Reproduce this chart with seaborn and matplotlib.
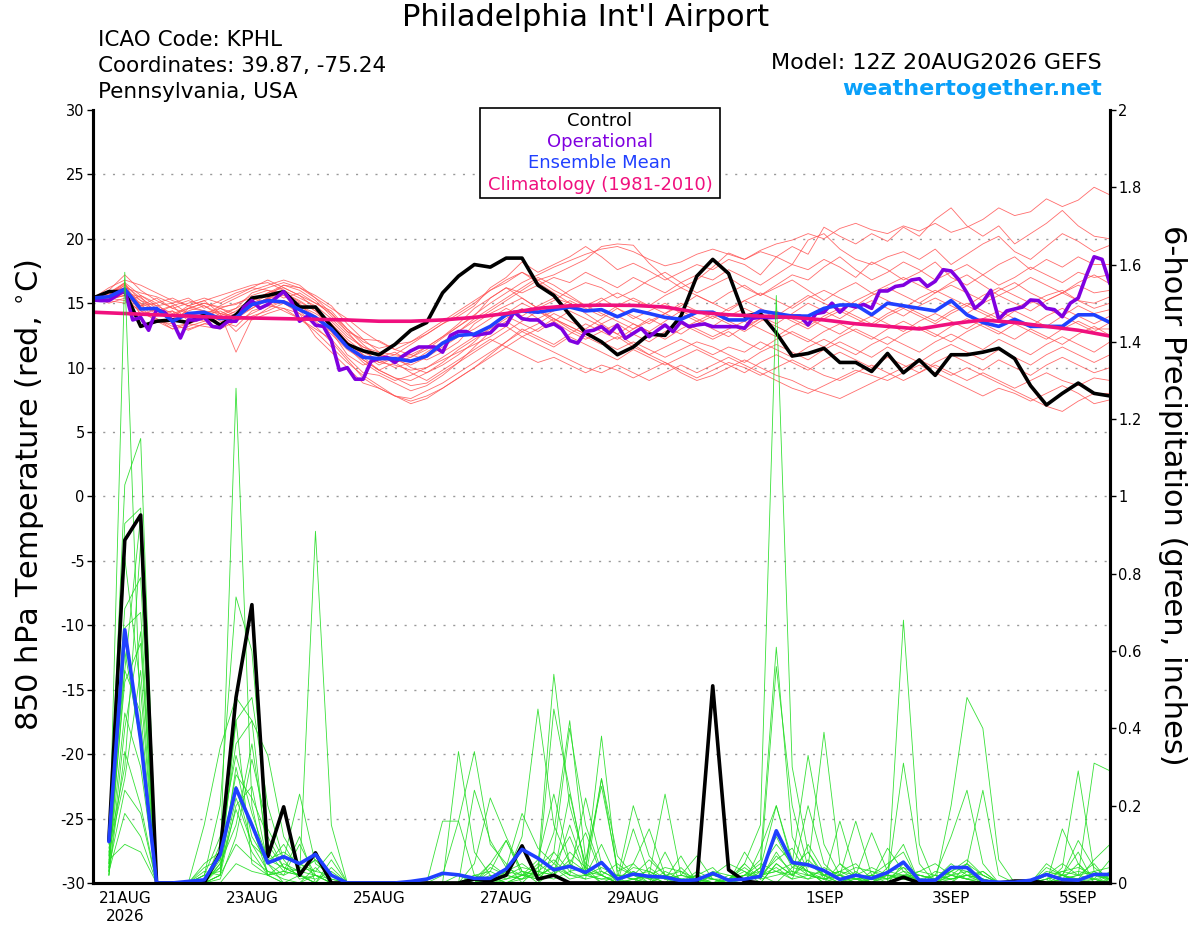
import numpy as np
import pandas as pd
import matplotlib
matplotlib.use("Agg")
import matplotlib.pyplot as plt
from matplotlib.patches import Rectangle
from matplotlib.ticker import FuncFormatter
import seaborn as sns

sns.set_theme(style="white")
plt.rcParams['font.family'] = ['DejaVu Sans']
plt.rcParams['axes.unicode_minus'] = False
plt.rcParams['text.color'] = 'black'
plt.rcParams['axes.labelcolor'] = 'black'
plt.rcParams['xtick.color'] = 'black'
plt.rcParams['ytick.color'] = 'black'

# ---------------- data ----------------
temp_hours = list(range(0, 385, 6))       # forecast hour from 12Z 20AUG
precip_hours = list(range(6, 385, 6))
oper_hours = list(range(0, 385, 3))
clim_hours = list(range(0, 385, 12))
grid_levels = [-25, -20, -15, -10, -5, 0, 5, 10, 15, 20, 25]

tick_hours = [12, 60, 108, 156, 204, 276, 324, 372]
tick_labels = ['21AUG\n2026', '23AUG', '25AUG', '27AUG', '29AUG', '1SEP', '3SEP', '5SEP']

control_temp = [15.4, 15.9, 15.9, 13.2, 13.6, 13.7, 13.5, 14.1, 13.3, 14.1, 15.4, 15.6, 15.9,
                14.7, 14.7, 13.2, 11.8, 11.3, 11.0, 11.8, 12.9, 13.5, 15.8, 17.1, 18.0, 17.8,
                18.5, 18.5, 16.4, 15.6, 14.1, 12.7,
                12.0, 11.0, 11.6, 12.6, 12.5, 14.0, 17.1, 18.4, 17.3, 14.0, 14.2, 12.7, 10.9,
                11.1, 11.5, 10.4, 10.4, 9.7, 11.1, 9.6, 10.6, 9.4, 11.0, 11.0, 11.2, 11.5,
                10.7, 8.6, 7.1, 8.0, 8.8, 8.0, 7.8]

oper_temp = [15.25, 15.2, 15.2, 15.6, 16.0, 13.7, 13.9, 12.9, 14.5, 14.3,
             13.6, 12.3, 13.7, 13.7, 13.9, 13.2, 13.1, 13.6, 13.6, 14.7,
             15.2, 14.6, 14.9, 15.4, 15.9, 15.1, 13.6, 14.0, 13.3, 13.2,
             12.1, 9.8, 10.0, 9.1, 9.1, 10.5, 10.7, 10.8, 10.4, 10.9,
             11.3, 11.6, 11.6, 11.6, 11.2, 12.5, 12.8, 12.8, 12.5, 12.6,
             12.7, 13.3, 13.3, 14.3, 13.8, 13.7, 13.7, 13.2, 13.4, 13.0,
             12.1, 11.9, 12.8, 12.9,
             13.18, 12.66, 13.31, 12.27, 12.66, 13.05, 12.40, 12.87, 13.31, 12.79,
             13.57, 13.18, 13.31, 13.39, 13.18, 13.18, 13.18, 13.18, 13.05, 13.83,
             13.90, 13.88, 13.90, 13.95, 14.0, 14.0, 13.31, 14.2, 14.3, 15.0,
             14.3, 14.86, 14.7, 14.9, 14.6, 15.95, 15.95, 16.3, 16.4, 16.8,
             16.9, 16.3, 16.7, 17.6, 17.5, 16.8, 15.8, 14.6, 15.1, 16.0,
             13.75, 14.4, 14.55, 14.7, 15.25, 15.2, 14.6, 14.5, 13.95, 15.0,
             15.4, 17.1, 18.6, 18.4, 16.5]

mean_temp = [15.4, 15.5, 16.1, 14.55, 14.6, 13.6, 14.2, 14.3, 13.8, 13.9, 14.9, 15.2, 15.1,
             14.5, 13.9, 13.0, 11.6, 10.8, 10.7, 10.7, 10.5, 10.9, 11.9, 12.5, 12.6, 13.2,
             14.1, 14.4, 14.3, 14.5, 14.7, 14.4, 14.5,
             13.95, 14.47, 14.2, 13.9, 13.75, 14.3, 14.3, 13.7, 13.7, 14.4, 14.2, 14.0,
             14.0, 14.6, 14.86, 14.86, 14.1, 15.0, 14.8, 14.6, 14.4, 15.2, 14.1, 13.5,
             13.2, 13.75, 13.2, 13.2, 13.2, 14.1, 14.1, 13.5]

clim_temp = [14.3, 14.2, 14.1, 14.0, 13.9, 13.85, 13.8, 13.75, 13.7, 13.6, 13.6, 13.7,
             13.9, 14.2, 14.6, 14.8, 14.85, 14.83, 14.7, 14.3, 14.1, 14.0, 13.9, 13.7,
             13.4, 13.2, 13.0, 13.4, 13.7, 13.5, 13.2, 12.9, 12.45]

control_precip = [0.11, 0.887, 0.952, 0, 0, 0, 0, 0.078, 0.48, 0.72, 0.068, 0.197, 0.02, 0.078, 0, 0,
                  0, 0, 0, 0, 0, 0, 0, 0.01, 0.005, 0.02, 0.096, 0.01, 0.02, 0, 0, 0,
                  0, 0, 0, 0, 0, 0, 0.51, 0.034, 0.005, 0, 0, 0, 0, 0, 0, 0,
                  0, 0, 0.015, 0, 0, 0, 0, 0, 0, 0.005, 0.005, 0, 0, 0, 0, 0]

mean_precip = [0.107, 0.655, 0.37, 0, 0, 0.004, 0.008, 0.073, 0.245, 0.15, 0.052, 0.068, 0.05, 0.074, 0.02, 0,
               0, 0, 0, 0.004, 0.01, 0.025, 0.021, 0.012, 0.012, 0.036, 0.087, 0.064, 0.034, 0.043, 0.027, 0.053,
               0.010, 0.023, 0.017, 0.015, 0.006, 0.008, 0.025, 0.007, 0.01, 0.017, 0.135, 0.053, 0.047, 0.032, 0.009, 0.02,
               0.012, 0.027, 0.054, 0.007, 0.007, 0.04, 0.04, 0.005, 0.002, 0.002, 0.007, 0.022, 0.009, 0.007, 0.022, 0.022]

temp_members = [
    [15.4, 15.8, 16.5, 15.2, 14.8, 14.2, 14.6, 15.0, 14.7, 14.9, 15.6, 16.0, 15.8,
     15.1, 14.4, 13.6, 12.4, 11.6, 11.2, 11.0, 10.8, 11.4, 12.3, 13.2, 14.1, 15.0,
     15.8, 16.6, 17.2, 17.8, 18.3, 18.8, 19.2, 19.4, 19.0, 18.4, 17.9, 18.2, 18.8,
     19.2, 18.8, 18.4, 19.1, 19.6, 19.9, 20.4, 20.0, 20.8, 21.2, 20.7, 20.4, 21.0,
     20.6, 21.2, 20.5, 20.9, 21.5, 22.4, 21.8, 22.1, 23.1, 22.5, 23.0, 24.0, 23.4],
    [15.3, 16.0, 17.2, 16.0, 15.2, 14.6, 15.0, 15.4, 15.0, 15.6, 16.2, 16.8, 16.2,
     15.6, 15.0, 14.2, 13.0, 12.0, 11.5, 11.8, 12.0, 12.6, 13.4, 14.0, 14.8, 16.2,
     17.0, 18.2, 17.4, 18.0, 18.6, 19.4, 18.6, 17.6, 18.1, 17.5, 16.8, 17.4, 18.0,
     17.6, 18.4, 18.0, 17.2, 18.6, 19.4, 18.8, 20.9, 20.2, 19.6, 20.4, 19.8, 20.9,
     20.2, 21.5, 22.4, 21.0, 20.2, 21.0, 19.6, 20.4, 21.2, 22.2, 21.0, 20.2, 20.0],
    [15.2, 15.5, 16.4, 14.8, 15.0, 13.8, 14.0, 13.6, 14.2, 14.0, 14.8, 15.4, 15.0,
     14.2, 13.4, 12.8, 11.0, 10.2, 10.6, 10.0, 10.4, 11.2, 12.0, 12.8, 13.6, 14.4,
     15.2, 16.0, 16.8, 17.2, 17.8, 18.4, 19.4, 19.6, 19.5, 18.1, 17.0, 16.2, 16.8,
     17.8, 18.9, 18.4, 19.0, 18.6, 18.0, 19.9, 20.4, 19.2, 18.4, 18.0, 18.6, 19.0,
     18.4, 19.2, 18.0, 18.8, 19.6, 20.2, 19.0, 18.4, 19.4, 20.4, 19.8, 19.0, 19.5],
    [15.5, 15.2, 15.8, 15.5, 14.2, 14.8, 13.6, 14.0, 14.4, 13.8, 15.0, 15.6, 16.4,
     16.0, 15.2, 14.0, 12.8, 12.2, 12.1, 11.4, 11.0, 11.6, 12.4, 13.2, 14.0, 15.4,
     16.2, 15.8, 16.4, 17.0, 16.6, 17.4, 16.8, 16.2, 17.0, 16.4, 15.8, 16.6, 17.2,
     16.8, 17.6, 17.0, 16.4, 17.2, 18.0, 17.6, 18.4, 17.8, 17.0, 18.2, 17.6, 16.8,
     17.4, 18.2, 17.0, 16.4, 17.2, 18.0, 18.6, 17.6, 18.4, 17.8, 18.6, 18.0, 18.0],
    [15.4, 15.6, 16.0, 14.6, 14.4, 14.0, 14.8, 15.2, 14.2, 13.8, 14.6, 15.2, 15.0,
     14.8, 14.0, 13.0, 12.0, 11.0, 10.2, 10.8, 11.0, 10.6, 11.2, 12.0, 13.4, 14.2,
     14.8, 15.4, 14.6, 15.2, 16.0, 16.6, 16.2, 15.4, 16.0, 16.8, 17.4, 16.6, 15.8,
     16.4, 17.0, 16.2, 15.6, 16.4, 17.2, 16.8, 17.8, 18.6, 17.6, 16.8, 17.4, 18.2,
     17.6, 16.8, 17.4, 18.0, 17.2, 16.4, 17.0, 17.8, 17.2, 16.6, 17.4, 17.0, 17.2],
    [15.3, 15.9, 16.2, 15.8, 15.5, 15.0, 15.4, 14.6, 15.2, 15.8, 16.2, 16.0, 15.4,
     15.8, 15.0, 14.4, 13.0, 11.8, 10.8, 11.2, 10.4, 10.8, 11.6, 12.4, 13.0, 13.8,
     14.6, 14.0, 14.8, 15.4, 15.0, 14.4, 15.2, 15.8, 15.2, 14.8, 15.6, 16.2, 15.6,
     15.0, 15.8, 16.4, 15.6, 16.2, 16.8, 16.0, 15.2, 16.0, 16.6, 15.8, 16.4, 17.0,
     16.4, 15.8, 16.6, 17.2, 16.4, 15.6, 16.2, 17.0, 16.4, 15.8, 16.6, 17.2, 16.5],
    [15.4, 15.4, 15.6, 14.2, 13.8, 13.2, 13.4, 13.8, 13.4, 14.2, 14.8, 15.4, 15.6,
     15.0, 13.6, 12.6, 11.4, 10.6, 9.8, 9.2, 9.0, 9.6, 10.4, 11.4, 12.2, 13.0,
     13.8, 14.6, 13.8, 14.4, 15.2, 14.6, 14.0, 14.8, 15.4, 14.8, 14.2, 14.8, 15.6,
     15.0, 14.4, 15.2, 15.8, 15.2, 14.6, 15.4, 16.0, 15.4, 14.8, 15.6, 16.2, 15.6,
     15.0, 15.8, 16.4, 15.8, 15.2, 16.0, 16.6, 15.8, 15.2, 15.8, 16.4, 15.8, 16.0],
    [15.2, 15.6, 16.6, 14.0, 14.6, 13.4, 14.6, 14.4, 13.6, 13.2, 14.4, 14.8, 14.6,
     13.8, 13.0, 12.2, 10.8, 9.6, 9.4, 8.8, 8.2, 8.6, 9.4, 10.4, 11.6, 12.8,
     13.6, 12.8, 13.4, 14.2, 13.6, 13.0, 13.8, 14.6, 14.0, 13.4, 14.2, 15.0, 14.4,
     13.8, 14.6, 15.2, 14.6, 14.0, 14.8, 15.6, 15.0, 14.4, 15.2, 15.8, 15.2, 14.6,
     15.4, 16.0, 15.4, 14.8, 15.6, 16.2, 15.6, 15.0, 15.6, 16.0, 15.2, 15.0, 15.5],
    [15.5, 15.0, 15.4, 15.0, 13.6, 13.0, 13.2, 13.6, 14.0, 12.8, 14.0, 14.4, 15.0,
     14.6, 13.8, 13.2, 12.0, 11.0, 10.4, 10.2, 9.8, 10.0, 10.6, 11.2, 11.8, 12.4,
     13.2, 12.4, 13.0, 13.8, 13.2, 12.6, 13.4, 14.0, 13.4, 12.8, 13.6, 14.4, 13.8,
     13.2, 14.0, 14.6, 14.0, 13.4, 14.2, 15.0, 14.4, 13.8, 14.6, 15.2, 14.6, 14.0,
     14.8, 15.4, 14.8, 14.2, 15.0, 15.6, 15.0, 14.4, 15.2, 15.8, 15.2, 14.6, 15.0],
    [15.4, 16.2, 16.8, 16.4, 15.8, 15.2, 14.8, 15.2, 15.6, 16.0, 16.4, 16.6, 16.0,
     15.4, 14.8, 13.8, 12.6, 11.6, 11.0, 10.6, 10.2, 10.8, 11.8, 12.8, 13.8, 14.6,
     15.4, 16.2, 17.0, 16.4, 15.6, 14.8, 15.4, 14.6, 13.8, 14.4, 15.0, 14.2, 13.6,
     14.2, 13.6, 13.0, 13.8, 14.4, 13.8, 13.2, 14.0, 14.6, 14.0, 13.4, 14.2, 14.8,
     14.2, 13.6, 14.4, 15.0, 14.4, 13.8, 14.6, 15.2, 14.6, 14.0, 14.8, 14.2, 14.5],
    [15.3, 15.4, 15.8, 14.4, 14.0, 14.4, 13.0, 13.4, 13.8, 14.4, 15.2, 15.8, 16.4,
     16.2, 15.4, 14.6, 13.8, 12.8, 12.0, 11.4, 12.0, 12.8, 13.6, 14.4, 15.2, 16.0,
     16.6, 17.4, 16.8, 16.0, 15.4, 14.8, 14.2, 13.6, 13.0, 13.6, 14.2, 13.6, 13.0,
     12.4, 13.0, 13.6, 13.0, 12.4, 13.2, 13.8, 13.2, 12.6, 13.4, 14.0, 13.4, 12.8,
     13.6, 14.2, 13.6, 13.0, 13.8, 14.4, 13.8, 13.2, 14.0, 14.6, 14.0, 13.4, 14.0],
    [15.4, 15.2, 15.0, 15.6, 14.8, 15.0, 14.2, 13.8, 14.6, 15.0, 15.4, 15.0, 14.4,
     13.8, 12.8, 11.6, 10.4, 9.4, 8.6, 7.8, 7.2, 7.6, 8.4, 9.2, 10.0, 11.0,
     12.0, 13.0, 12.4, 11.8, 12.6, 13.4, 12.8, 12.2, 13.0, 13.8, 13.2, 12.6, 13.4,
     14.0, 13.4, 12.8, 13.6, 14.2, 13.6, 13.0, 13.8, 14.4, 13.8, 13.2, 14.0, 14.6,
     14.0, 13.4, 14.2, 14.8, 14.2, 13.6, 14.4, 13.8, 13.2, 14.0, 13.4, 12.8, 13.5],
    [15.2, 15.8, 16.0, 15.2, 14.4, 14.8, 15.2, 14.8, 14.2, 11.2, 13.8, 14.6, 15.2,
     14.6, 13.8, 12.8, 11.6, 10.4, 9.6, 9.0, 9.4, 10.0, 10.8, 11.6, 12.4, 13.2,
     14.0, 13.4, 12.8, 13.6, 14.4, 13.8, 13.2, 12.6, 13.4, 12.8, 12.2, 13.0, 13.6,
     13.0, 12.4, 13.2, 13.8, 13.2, 12.6, 12.0, 12.8, 13.4, 12.8, 12.2, 13.0, 13.6,
     13.0, 12.4, 13.2, 13.8, 13.2, 12.6, 13.4, 12.8, 12.2, 13.0, 13.6, 13.0, 13.0],
    [15.3, 15.5, 16.2, 14.8, 15.4, 14.6, 14.2, 14.0, 14.8, 15.4, 16.0, 16.4, 16.8,
     16.4, 15.4, 14.2, 12.8, 11.4, 10.4, 10.8, 10.0, 9.6, 10.2, 11.0, 12.0, 13.2,
     14.2, 15.0, 14.4, 13.6, 12.8, 12.2, 12.8, 13.4, 12.6, 12.0, 12.8, 13.4, 12.8,
     12.2, 12.8, 12.0, 11.4, 12.2, 12.8, 12.2, 11.6, 12.4, 13.0, 12.4, 11.8, 12.6,
     13.2, 12.6, 12.0, 12.8, 13.4, 12.8, 12.2, 13.0, 12.4, 11.8, 12.6, 13.2, 12.5],
    [15.4, 15.7, 16.4, 15.4, 14.6, 13.8, 14.4, 14.8, 14.0, 14.6, 15.8, 16.2, 16.6,
     16.2, 15.6, 14.8, 13.4, 12.2, 11.2, 10.4, 10.8, 11.6, 12.4, 13.4, 14.6, 15.4,
     16.2, 15.4, 14.6, 13.8, 13.0, 12.4, 11.8, 12.4, 11.6, 11.0, 11.6, 12.2, 11.6,
     11.0, 11.6, 11.2, 12.0, 11.4, 10.8, 11.6, 12.2, 11.6, 11.0, 11.8, 12.4, 11.8,
     11.2, 12.0, 12.6, 12.0, 11.4, 12.2, 11.6, 11.0, 11.8, 12.4, 11.8, 11.2, 12.0],
    [15.4, 15.3, 15.6, 14.6, 13.8, 13.0, 13.4, 13.2, 13.0, 13.6, 14.2, 14.8, 15.2,
     14.8, 14.2, 13.4, 12.0, 10.8, 9.8, 9.2, 8.6, 8.8, 9.6, 10.4, 11.2, 12.0,
     12.8, 13.6, 14.4, 13.8, 13.2, 12.6, 12.0, 11.4, 12.0, 11.4, 10.8, 11.4, 12.0,
     11.6, 11.0, 10.4, 11.2, 11.8, 11.2, 10.6, 11.4, 12.0, 11.4, 10.8, 11.6, 11.0,
     10.4, 11.2, 11.8, 11.2, 10.6, 11.4, 10.8, 10.2, 11.0, 11.6, 11.0, 10.4, 11.0],
    [15.2, 15.4, 15.2, 14.4, 13.6, 13.4, 12.9, 13.4, 13.2, 13.8, 13.7, 14.2, 14.6,
     14.2, 12.4, 11.2, 10.0, 8.8, 8.4, 7.8, 7.6, 8.2, 8.8, 9.6, 10.4, 11.2,
     12.0, 12.8, 12.2, 11.6, 12.4, 11.8, 11.2, 10.6, 11.4, 10.8, 10.2, 10.8, 11.4,
     10.8, 10.2, 9.6, 10.4, 11.0, 10.4, 9.8, 10.6, 11.2, 10.6, 10.0, 10.8, 10.2,
     9.6, 10.4, 11.0, 10.4, 9.8, 10.6, 10.0, 9.4, 10.2, 10.8, 10.2, 9.6, 10.0],
    [15.3, 15.6, 16.0, 15.0, 14.4, 14.0, 14.6, 15.0, 14.6, 14.0, 14.6, 15.4, 15.8,
     15.2, 14.4, 13.2, 11.8, 10.6, 9.8, 10.4, 9.6, 9.0, 9.8, 10.6, 11.4, 12.2,
     11.6, 11.0, 10.4, 10.8, 10.2, 9.6, 10.2, 9.8, 9.2, 9.8, 10.4, 9.8, 9.2,
     9.8, 10.4, 10.0, 9.4, 10.0, 10.6, 10.0, 9.4, 9.0, 9.6, 10.2, 9.6, 9.0,
     9.6, 10.2, 9.6, 9.0, 9.6, 9.0, 8.4, 9.0, 9.6, 9.0, 8.6, 9.2, 9.0],
    [15.4, 15.8, 16.6, 15.6, 15.0, 15.4, 14.8, 14.4, 14.2, 14.6, 15.2, 15.8, 16.2,
     15.6, 14.6, 13.4, 12.2, 11.2, 10.6, 11.0, 11.8, 12.6, 13.4, 14.2, 15.0, 16.0,
     16.8, 17.4, 16.6, 15.8, 15.0, 14.2, 13.4, 12.6, 11.8, 11.0, 10.4, 9.6, 9.0,
     9.4, 10.0, 10.6, 10.0, 9.4, 9.0, 8.4, 8.0, 7.6, 8.2, 8.8, 9.4, 10.0,
     10.6, 10.0, 9.4, 10.0, 9.4, 8.8, 8.2, 7.6, 7.0, 6.6, 7.4, 8.0, 8.0],
    [15.2, 15.3, 15.6, 14.8, 14.2, 14.4, 13.8, 14.2, 14.6, 14.2, 14.8, 15.4, 15.0,
     14.4, 13.2, 12.0, 10.6, 9.2, 8.4, 7.8, 7.4, 7.8, 8.4, 9.2, 10.0, 10.8,
     11.6, 12.4, 11.8, 11.2, 10.6, 10.0, 9.6, 10.2, 9.6, 9.0, 9.6, 10.2, 9.6,
     10.2, 10.8, 10.2, 9.6, 9.0, 8.4, 8.0, 8.6, 9.2, 9.8, 9.4, 9.0, 9.6,
     10.2, 9.6, 9.0, 8.4, 7.8, 8.4, 8.0, 7.4, 8.0, 8.6, 8.0, 7.2, 7.5],
]

precip_members = [
    [0.05, 1.58, 0.40, 0, 0, 0, 0, 0.02, 0.30, 0.12, 0.05, 0, 0.02, 0, 0, 0,
     0, 0, 0, 0, 0, 0.02, 0.16, 0.34, 0.10, 0.05, 0, 0.04, 0.54, 0.20, 0.05, 0.02,
     0, 0.03, 0, 0.02, 0, 0.01, 0, 0, 0.05, 0.15, 1.52, 0.30, 0.08, 0.02, 0, 0.03,
     0, 0, 0.68, 0.10, 0, 0, 0.05, 0, 0, 0, 0, 0, 0.02, 0.08, 0, 0],
    [0.10, 1.03, 1.15, 0, 0, 0, 0, 0.05, 1.28, 0.20, 0.02, 0, 0, 0, 0, 0,
     0, 0, 0, 0, 0, 0, 0, 0.05, 0.22, 0.12, 0.03, 0, 0.08, 0.40, 0.15, 0.03,
     0.01, 0, 0.02, 0, 0.04, 0, 0, 0, 0.02, 0.06, 0.61, 0.12, 0.03, 0, 0.02, 0,
     0.01, 0, 0.05, 0.01, 0, 0.20, 0.48, 0.40, 0.06, 0, 0, 0, 0.01, 0.05, 0.01, 0],
    [0.03, 0.93, 0.97, 0, 0, 0, 0.02, 0.20, 0.74, 0.60, 0.10, 0.04, 0.02, 0.91, 0.15, 0,
     0, 0, 0, 0, 0, 0, 0, 0, 0.03, 0.11, 0.02, 0.03, 0.02, 0.23, 0.04, 0,
     0.02, 0.01, 0, 0.08, 0, 0, 0, 0, 0, 0.03, 0.56, 0.20, 0.04, 0.39, 0.05, 0.01,
     0, 0, 0.02, 0, 0, 0.03, 0.05, 0.24, 0.02, 0, 0, 0, 0.04, 0.29, 0.03, 0],
    [0.12, 0.71, 0.79, 0, 0, 0, 0.15, 0.35, 0.48, 0.42, 0.33, 0.12, 0.05, 0.02, 0, 0,
     0, 0, 0, 0, 0, 0, 0.02, 0, 0.04, 0.02, 0.12, 0.45, 0.15, 0.05, 0.13, 0.02,
     0, 0.05, 0.14, 0.02, 0, 0.03, 0.01, 0, 0, 0.09, 0.20, 0.05, 0.33, 0.10, 0.02, 0,
     0.03, 0.01, 0.31, 0.05, 0, 0, 0.03, 0, 0, 0, 0, 0, 0.14, 0.05, 0, 0.02],
    [0.02, 0.66, 0.70, 0, 0, 0, 0, 0.10, 0.42, 0.48, 0.20, 0.06, 0.23, 0.05, 0.02, 0,
     0, 0, 0, 0, 0, 0, 0, 0.02, 0.01, 0, 0.02, 0.06, 0.23, 0.05, 0.02, 0.01,
     0.01, 0.20, 0.07, 0.02, 0, 0.02, 0, 0, 0.01, 0.04, 0.20, 0.06, 0.03, 0.01, 0.16, 0.02,
     0, 0.04, 0.10, 0, 0.02, 0.12, 0.24, 0.05, 0, 0, 0, 0, 0.02, 0.11, 0.04, 0.01],
    [0.15, 0.55, 0.44, 0, 0, 0, 0.05, 0.08, 0.36, 0.42, 0.05, 0.10, 0.03, 0.06, 0.02, 0,
     0, 0, 0, 0, 0, 0, 0, 0, 0, 0.03, 0.05, 0.02, 0.45, 0.24, 0.03, 0,
     0, 0, 0.04, 0.01, 0.07, 0, 0.02, 0.05, 0.03, 0, 0.05, 0.02, 0.20, 0.05, 0.01, 0.02,
     0.13, 0.03, 0.04, 0.02, 0.01, 0.05, 0.02, 0, 0, 0, 0, 0.01, 0.03, 0.02, 0.31, 0.29],
    [0.03, 0.55, 0.95, 0, 0, 0, 0, 0.04, 0.25, 0.10, 0.03, 0.02, 0.10, 0.02, 0, 0,
     0, 0, 0, 0, 0, 0.16, 0.16, 0.02, 0, 0.04, 0.18, 0.09, 0.05, 0.02, 0.01, 0.27,
     0.07, 0.02, 0, 0.03, 0.01, 0, 0, 0, 0.08, 0.02, 0, 0.04, 0.08, 0.01, 0.03, 0.05,
     0.01, 0.09, 0.03, 0, 0, 0.02, 0.03, 0.01, 0, 0, 0, 0.04, 0.02, 0.01, 0.06, 0.10],
    [0.05, 0.44, 0.30, 0, 0, 0, 0.02, 0.03, 0.22, 0.10, 0.06, 0.08, 0.05, 0.03, 0.08, 0,
     0, 0, 0, 0, 0, 0, 0.34, 0.08, 0.02, 0, 0.02, 0.04, 0.08, 0.03, 0.04, 0.02,
     0, 0.14, 0.02, 0.23, 0.02, 0.07, 0.01, 0, 0, 0, 0.05, 0.02, 0.06, 0.02, 0, 0.01,
     0.02, 0.05, 0.08, 0, 0.03, 0.02, 0.05, 0.02, 0, 0, 0, 0, 0.01, 0, 0, 0.03],
    [0.02, 0.34, 0.20, 0, 0, 0, 0, 0, 0.05, 0.03, 0.02, 0, 0, 0.04, 0, 0,
     0, 0, 0, 0, 0, 0, 0, 0.24, 0.11, 0.04, 0.02, 0.01, 0.02, 0.15, 0.03, 0.38,
     0.02, 0.02, 0.01, 0, 0, 0.02, 0.01, 0, 0, 0.02, 0.03, 0.02, 0.05, 0.02, 0.02, 0.16,
     0.02, 0.01, 0.04, 0, 0.01, 0.03, 0.01, 0.03, 0, 0, 0, 0.02, 0.05, 0.02, 0.05, 0],
    [0.08, 0.27, 0.55, 0, 0, 0, 0.03, 0.02, 0.42, 0.05, 0.02, 0.03, 0.02, 0, 0.06, 0,
     0, 0, 0, 0, 0, 0, 0, 0, 0.05, 0.11, 0.03, 0.02, 0.13, 0.42, 0.06, 0.25,
     0.04, 0.02, 0.06, 0.02, 0.01, 0, 0.03, 0.02, 0.01, 0.04, 0.10, 0.05, 0.03, 0, 0.05, 0.02,
     0.04, 0.02, 0.01, 0.03, 0.05, 0.02, 0.01, 0, 0, 0, 0, 0.05, 0.02, 0, 0.03, 0.04],
    [0.04, 0.24, 0.18, 0, 0, 0, 0, 0.05, 0.15, 0.36, 0.08, 0.03, 0.12, 0, 0.04, 0,
     0, 0, 0, 0, 0, 0, 0, 0.01, 0.05, 0.02, 0.04, 0.03, 0.06, 0.02, 0.22, 0.05,
     0, 0.01, 0.02, 0.04, 0.03, 0.01, 0, 0.01, 0.02, 0.02, 0.03, 0.05, 0.02, 0.03, 0.01, 0,
     0.01, 0.02, 0.02, 0.02, 0.01, 0.03, 0.06, 0.02, 0, 0, 0, 0.02, 0.01, 0.02, 0.01, 0.06],
    [0.03, 0.18, 0.12, 0, 0, 0, 0.04, 0.06, 0.25, 0.15, 0.02, 0.05, 0.03, 0.06, 0.01, 0,
     0, 0, 0, 0, 0, 0, 0, 0, 0, 0.02, 0.01, 0.05, 0.02, 0.08, 0.04, 0.27,
     0.03, 0.05, 0.01, 0.02, 0.01, 0.02, 0.04, 0, 0.01, 0.02, 0.04, 0.01, 0.10, 0.03, 0.01, 0.01,
     0, 0.02, 0.01, 0.01, 0.02, 0.01, 0.02, 0.01, 0, 0, 0, 0.01, 0.02, 0.03, 0.02, 0.01],
    [0.06, 0.10, 0.08, 0, 0, 0, 0, 0.02, 0.20, 0.25, 0.05, 0.02, 0.04, 0.03, 0.02, 0,
     0, 0, 0, 0, 0, 0, 0, 0, 0, 0, 0, 0, 0.03, 0.05, 0.02, 0.03,
     0.01, 0.04, 0.03, 0.01, 0.02, 0.01, 0.02, 0.01, 0.05, 0.01, 0.02, 0.03, 0.01, 0.02, 0.03, 0.02,
     0, 0.03, 0.02, 0.01, 0, 0.02, 0.01, 0, 0, 0, 0, 0, 0.01, 0.01, 0, 0.01],
    [0.07, 0.52, 0.62, 0, 0, 0, 0.01, 0.04, 0.19, 0.08, 0.02, 0.03, 0.02, 0.01, 0.03, 0,
     0, 0, 0, 0, 0, 0, 0, 0, 0.01, 0.03, 0.02, 0.01, 0.05, 0.12, 0.02, 0.04,
     0.02, 0.01, 0.02, 0, 0.01, 0, 0.01, 0, 0.02, 0.03, 0.12, 0.04, 0.03, 0.02, 0.03, 0.01,
     0.02, 0, 0.02, 0.03, 0.02, 0.01, 0.02, 0.03, 0, 0, 0, 0.03, 0.02, 0.01, 0.02, 0.02],
    [0.11, 0.84, 0.50, 0, 0, 0, 0, 0.01, 0.12, 0.32, 0.14, 0.06, 0.01, 0.02, 0, 0,
     0, 0, 0, 0, 0, 0, 0, 0.02, 0.03, 0.01, 0.02, 0.02, 0.04, 0.02, 0.02, 0.10,
     0.01, 0.03, 0.01, 0.02, 0.03, 0, 0, 0.01, 0.04, 0.01, 0.08, 0.02, 0.01, 0.04, 0.02, 0.01,
     0.01, 0.01, 0.03, 0.02, 0.01, 0.01, 0.02, 0.01, 0, 0, 0, 0.02, 0.03, 0.04, 0.02, 0.01],
    [0.02, 0.40, 0.65, 0, 0, 0, 0, 0.02, 0.10, 0.06, 0.03, 0.01, 0, 0.02, 0, 0,
     0, 0, 0, 0, 0, 0, 0, 0, 0, 0.01, 0.03, 0.02, 0.01, 0.03, 0.01, 0.02,
     0, 0.01, 0, 0.02, 0, 0, 0.02, 0.01, 0.02, 0.05, 0.03, 0.01, 0.02, 0.01, 0, 0.02,
     0.01, 0.02, 0.01, 0, 0.01, 0.04, 0.03, 0.02, 0, 0, 0, 0.01, 0.02, 0, 0.01, 0],
    [0.09, 0.30, 0.88, 0, 0, 0, 0.02, 0.12, 0.33, 0.18, 0.06, 0.04, 0.02, 0, 0, 0,
     0, 0, 0, 0, 0, 0, 0, 0, 0.02, 0, 0.01, 0.03, 0.02, 0.06, 0.03, 0.02,
     0.05, 0.02, 0.03, 0.01, 0.02, 0.01, 0, 0.02, 0.01, 0.02, 0.06, 0.09, 0.02, 0.01, 0.02, 0.01,
     0.02, 0.01, 0.02, 0.01, 0, 0.01, 0.02, 0.01, 0, 0, 0, 0, 0.01, 0.02, 0.03, 0.01],
    [0.04, 0.60, 0.36, 0, 0, 0, 0, 0.06, 0.28, 0.22, 0.12, 0.04, 0.03, 0.02, 0.01, 0,
     0, 0, 0, 0, 0, 0, 0, 0, 0.01, 0.02, 0.01, 0.02, 0.04, 0.01, 0.02, 0.01,
     0.02, 0.01, 0.02, 0.01, 0, 0.02, 0.01, 0.01, 0.03, 0.01, 0.07, 0.03, 0.02, 0.01, 0.02, 0.04,
     0.03, 0.02, 0.01, 0.02, 0.01, 0.02, 0.01, 0.01, 0, 0, 0, 0.02, 0.01, 0.01, 0.01, 0.02],
]

# ---------------- checks ----------------
for name, arr, hrs in [("control_temp", control_temp, temp_hours), ("oper_temp", oper_temp, oper_hours),
                       ("mean_temp", mean_temp, temp_hours), ("clim_temp", clim_temp, clim_hours),
                       ("control_precip", control_precip, precip_hours), ("mean_precip", mean_precip, precip_hours)]:
    if len(arr) != len(hrs):
        raise ValueError(f"{name}: {len(arr)} vs {len(hrs)}")
for i, m in enumerate(temp_members):
    if len(m) != len(temp_hours):
        raise ValueError(f"temp member {i}: {len(m)}")
for i, m in enumerate(precip_members):
    if len(m) != len(precip_hours):
        raise ValueError(f"precip member {i}: {len(m)}")

temp_df = pd.DataFrame([(k, h, v) for k, m in enumerate(temp_members) for h, v in zip(temp_hours, m)],
                       columns=["member", "hour", "value"])
precip_df = pd.DataFrame([(k, h, v) for k, m in enumerate(precip_members) for h, v in zip(precip_hours, m)],
                         columns=["member", "hour", "value"])

# ---------------- colours ----------------
RED = "#FF5252"
GREEN = "#22DD22"
BLACK = "#000000"
PURPLE = "#8000E0"
BLUE = "#2040FF"
PINK = "#F0107E"

# ---------------- figure ----------------
fig = plt.figure(figsize=(12, 9.27), dpi=100)
ax = fig.add_axes([0.0775, 0.0475, 0.8475, 0.8339])
ax2 = ax.twinx()

# dotted gridlines at each 5 degrees inside the frame
for lev in grid_levels:
    ax.axhline(lev, linestyle=(0, (1.5, 5.5)), color="#999999", lw=1.0, zorder=0)

# temperature
sns.lineplot(data=temp_df, x="hour", y="value", units="member", estimator=None,
             color=RED, lw=0.6, alpha=0.85, legend=False, ax=ax)
sns.lineplot(x=temp_hours, y=control_temp, color=BLACK, lw=2.6, ax=ax)
sns.lineplot(x=oper_hours, y=oper_temp, color=PURPLE, lw=2.6, ax=ax)
sns.lineplot(x=temp_hours, y=mean_temp, color=BLUE, lw=2.6, ax=ax)
sns.lineplot(x=clim_hours, y=clim_temp, color=PINK, lw=2.6, ax=ax)

# precipitation
sns.lineplot(data=precip_df, x="hour", y="value", units="member", estimator=None,
             color=GREEN, lw=0.6, alpha=0.9, legend=False, ax=ax2)
sns.lineplot(x=precip_hours, y=control_precip, color=BLACK, lw=2.6, ax=ax2)
sns.lineplot(x=precip_hours, y=mean_precip, color=BLUE, lw=2.6, ax=ax2)

# axes limits and ticks
ax.set_xlim(0, 384)
ax.set_ylim(-30, 30)
ax2.set_ylim(0, 2)
ax.set_yticks(np.arange(-30, 31, 5))
ax2.set_yticks(np.arange(0, 2.01, 0.2))
ax2.yaxis.set_major_formatter(FuncFormatter(lambda v, p: f"{v:g}"))
ax.set_xticks(tick_hours)
ax.set_xticklabels(tick_labels)
ax.set_xlabel("")
ax.set_ylabel("")
ax2.set_ylabel("")

for a in (ax, ax2):
    a.tick_params(direction="out", length=4, width=1, colors="black", pad=2)
    a.spines["top"].set_visible(False)
    for s in ("left", "right", "bottom"):
        a.spines[s].set_color("black")
        a.spines[s].set_linewidth(2.2)
ax.tick_params(axis="y", labelsize=10.5)
ax.tick_params(axis="x", labelsize=11)
ax2.tick_params(axis="y", labelsize=10.5)

# axis titles
fig.text(0.025, 0.466, r"850 hPa Temperature (red, $^{\circ}$C)", rotation=90,
         ha="center", va="center", fontsize=22)
fig.text(0.977, 0.466, "6-hour Precipitation (green, inches)", rotation=270,
         ha="center", va="center", fontsize=22)

# header
fig.text(0.488, 0.9806, "Philadelphia Int'l Airport", ha="center", va="center", fontsize=22)
fig.text(0.0817, 0.9569, "ICAO Code: KPHL", ha="left", va="center", fontsize=15.5)
fig.text(0.0817, 0.9288, "Coordinates: 39.87, -75.24", ha="left", va="center", fontsize=15.5)
fig.text(0.0817, 0.9008, "Pennsylvania, USA", ha="left", va="center", fontsize=15.5)
fig.text(0.9183, 0.932, "Model: 12Z 20AUG2026 GEFS", ha="right", va="center", fontsize=16)
fig.text(0.9183, 0.904, "weathertogether.net", ha="right", va="center", fontsize=16,
         fontweight="bold", color="#0AA0FA")

# legend box
fig.add_artist(Rectangle((0.4, 0.7864), 0.2, 0.0971, transform=fig.transFigure,
                         facecolor="white", edgecolor="black", lw=1.2, zorder=10))
legend_items = [("Control", BLACK, 0.8695), ("Operational", PURPLE, 0.8468),
                ("Ensemble Mean", BLUE, 0.8242), ("Climatology (1981-2010)", PINK, 0.8004)]
for txt, col, yy in legend_items:
    fig.text(0.5, yy, txt, ha="center", va="center", fontsize=13, color=col, zorder=11)

fig.savefig("out.png", dpi=100)
